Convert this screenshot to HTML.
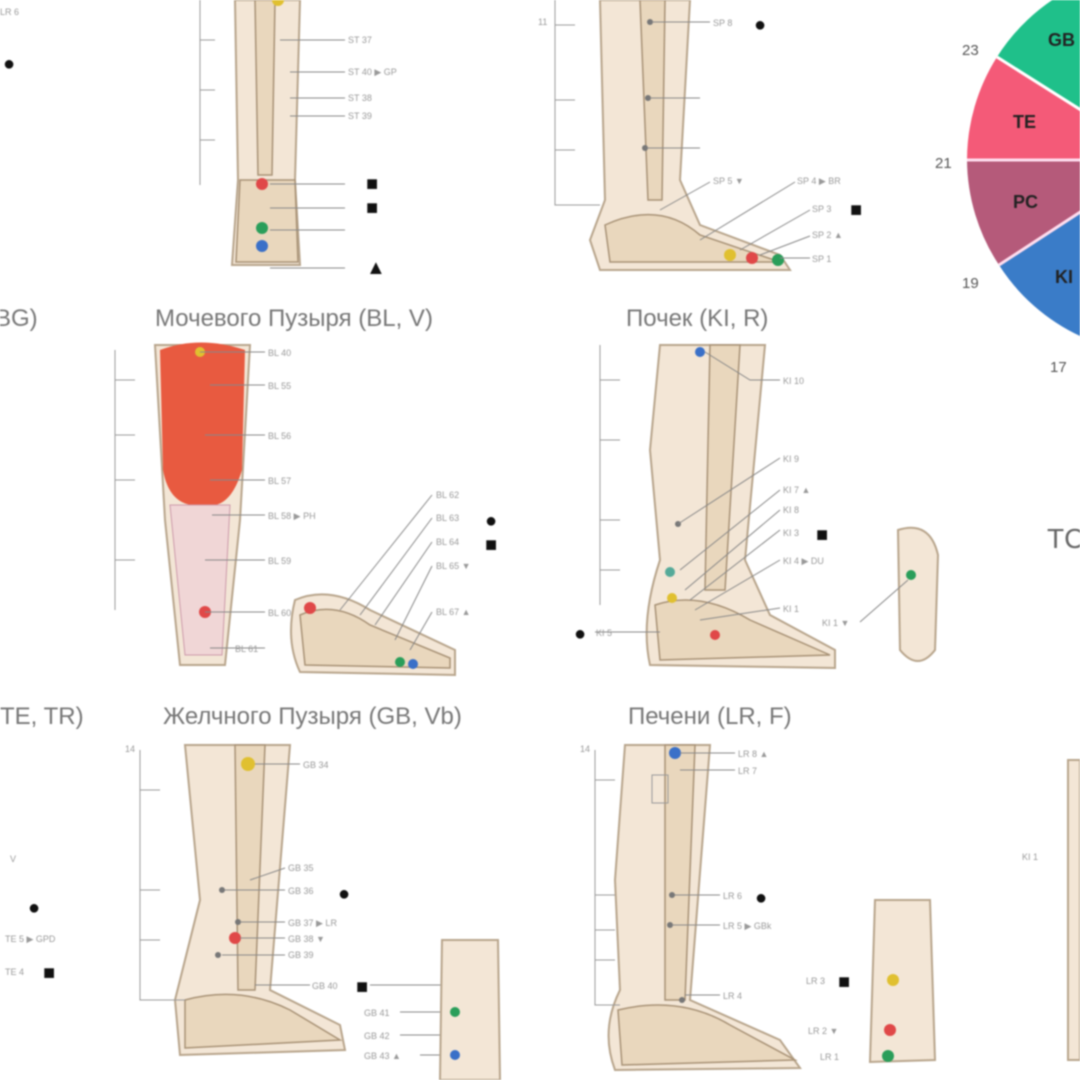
<!DOCTYPE html>
<html><head><meta charset="utf-8"><style>
html,body{margin:0;padding:0;background:#fff;}
svg{display:block;filter:blur(0.7px)}
text{font-family:"Liberation Sans","DejaVu Sans",sans-serif;}
.t{font-size:24px;fill:#777;}
.s{font-size:9px;fill:#999;}
.k{font-size:20px;fill:#111;}
.leg{fill:#f3e6d6;stroke:#b8a58c;stroke-width:2}
.bone{fill:#e9d7bd;stroke:#a89276;stroke-width:1.5}
.ln{stroke:#888;stroke-width:1;fill:none}
.rl{stroke:#999;stroke-width:1;fill:none}
</style></head><body>
<svg width="1080" height="1080" viewBox="0 0 1080 1080" xmlns="http://www.w3.org/2000/svg">
<rect width="1080" height="1080" fill="#fff"/>
<!-- pie chart -->
<g>
<path d="M1160,160 L1160,-33 A193,193 0 0 0 997,57 Z" fill="#1fc08a"/>
<path d="M1160,160 L997,57 A193,193 0 0 0 967,160 Z" fill="#f45a78"/>
<path d="M1160,160 L967,160 A193,193 0 0 0 999,265 Z" fill="#b55a7a"/>
<path d="M1160,160 L999,265 A193,193 0 0 0 1080,336 Z" fill="#3a7cc8"/>
<line x1="1160" y1="160" x2="967" y2="160" stroke="#fde" stroke-width="3"/>
<line x1="1160" y1="160" x2="997" y2="57" stroke="#fff" stroke-width="3"/>
<line x1="1160" y1="160" x2="999" y2="265" stroke="#fde" stroke-width="3"/>
<text x="1048" y="46" font-size="18" font-weight="bold" fill="#222">GB</text>
<text x="1013" y="128" font-size="18" font-weight="bold" fill="#222">TE</text>
<text x="1013" y="208" font-size="18" font-weight="bold" fill="#222">PC</text>
<text x="1055" y="283" font-size="18" font-weight="bold" fill="#222">KI</text>
<text x="962" y="55" font-size="15" fill="#555">23</text>
<text x="935" y="168" font-size="15" fill="#555">21</text>
<text x="962" y="288" font-size="15" fill="#555">19</text>
<text x="1050" y="372" font-size="15" fill="#555">17</text>
<text x="1047" y="548" font-size="28" fill="#666">TC</text>
</g>
<!-- titles -->
<text class="t" x="155" y="326">Мочевого Пузыря (BL, V)</text>
<text class="t" x="626" y="326">Почек (KI, R)</text>
<text class="t" x="-5" y="326">BG)</text>
<text class="t" x="0" y="724">TE, TR)</text>
<text class="t" x="163" y="724">Желчного Пузыря (GB,  Vb)</text>
<text class="t" x="628" y="724">Печени (LR, F)</text>

<!-- top leg 1 -->
<path class="leg" d="M235,0 L300,0 L295,180 L300,265 L232,265 L238,180 Z"/>
<path class="bone" d="M255,0 L275,0 L272,175 L258,175 Z"/>
<path class="bone" d="M240,180 L295,180 L298,262 L236,262 Z"/>
<path class="rl" d="M200,0 V185 M200,40 H215 M200,90 H215 M200,140 H215"/>
<circle cx="262" cy="184" r="6" fill="#e04848"/><circle cx="262" cy="228" r="6" fill="#2a9e5a"/><circle cx="262" cy="246" r="6" fill="#3a70c8"/><circle cx="278" cy="0" r="6" fill="#e0c030"/>
<g class="ln"><path d="M280,40 H345 M290,72 H345 M290,98 H345 M290,116 H345 M270,184 H345 M270,208 H345 M270,230 H345 M270,268 H345"/></g>
<text class="s" x="348" y="43">ST 37</text><text class="s" x="348" y="75">ST 40 ▶ GP</text><text class="s" x="348" y="101">ST 38</text><text class="s" x="348" y="119">ST 39</text>
<text class="k" x="366" y="190">■</text><text class="k" x="366" y="214">■</text><text class="k" x="366" y="274" font-size="16">▲</text>
<text class="k" x="3" y="70">●</text><text class="s" x="0" y="15">LR 6</text>

<!-- top leg 2 -->
<path class="leg" d="M600,0 L690,0 L680,180 L700,225 L780,255 L790,270 L600,270 L590,240 L605,200 Z"/>
<path class="bone" d="M640,0 L665,0 L662,200 L648,200 Z"/>
<path class="bone" d="M605,225 Q660,200 700,235 L780,262 L610,262 Z"/>
<path class="rl" d="M555,0 V205 H600 M555,25 H575 M555,100 H575 M555,150 H575"/>
<text class="s" x="538" y="25">11</text>
<circle cx="650" cy="22" r="3" fill="#777"/><circle cx="648" cy="98" r="3" fill="#777"/><circle cx="645" cy="148" r="3" fill="#777"/>
<circle cx="730" cy="255" r="6" fill="#e0c030"/><circle cx="752" cy="258" r="6" fill="#e04848"/><circle cx="778" cy="260" r="6" fill="#2a9e5a"/>
<path class="ln" d="M652,22 H710 M650,98 H700 M647,148 H700 M660,210 L710,182 M700,240 L795,182 M740,250 L810,210 M760,255 L810,236 M780,258 L810,258"/>
<text class="s" x="713" y="26">SP 8</text><text class="k" x="754" y="31">●</text>
<text class="s" x="713" y="184">SP 5 ▼</text><text class="s" x="797" y="184">SP 4 ▶ BR</text>
<text class="s" x="812" y="212">SP 3</text><text class="k" x="850" y="216">■</text><text class="s" x="812" y="238">SP 2 ▲</text><text class="s" x="812" y="262">SP 1</text>

<!-- BL leg -->
<path class="leg" d="M155,345 L250,345 L240,520 L225,665 L180,665 L165,520 Z"/>
<path d="M160,350 Q200,335 245,350 L242,470 Q230,510 205,505 Q170,510 163,470 Z" fill="#e85a40"/>
<path d="M170,505 L230,505 L222,655 L185,655 Z" fill="#f0d6d6" stroke="#c9a"/>
<path class="rl" d="M115,350 V610 M115,380 H135 M115,435 H135 M115,480 H135 M115,560 H135"/>
<circle cx="200" cy="352" r="5" fill="#e0c030"/><circle cx="205" cy="612" r="6" fill="#e04848"/>
<path class="ln" d="M200,352 H265 M210,385 H265 M205,435 H265 M210,480 H265 M212,515 H265 M205,560 H265 M205,612 H265 M210,648 H265"/>
<text class="s" x="268" y="356">BL 40</text><text class="s" x="268" y="389">BL 55</text><text class="s" x="268" y="439">BL 56</text><text class="s" x="268" y="484">BL 57</text><text class="s" x="268" y="519">BL 58 ▶ PH</text><text class="s" x="268" y="564">BL 59</text><text class="s" x="268" y="616">BL 60</text><text class="s" x="235" y="652">BL 61</text>
<path class="leg" d="M295,600 Q330,585 370,610 L455,650 L455,675 L300,672 Q285,640 295,600 Z"/>
<path class="bone" d="M300,615 Q335,600 370,625 L450,658 L450,668 L305,665 Z"/>
<circle cx="310" cy="608" r="6" fill="#e04848"/><circle cx="400" cy="662" r="5" fill="#2a9e5a"/><circle cx="413" cy="664" r="5" fill="#3a70c8"/>
<path class="ln" d="M340,610 L432,495 M360,615 L432,518 M375,625 L432,542 M395,640 L432,566 M410,650 L432,612"/>
<text class="s" x="436" y="498">BL 62</text><text class="s" x="436" y="521">BL 63</text><text class="k" x="485" y="527">●</text><text class="s" x="436" y="545">BL 64</text><text class="k" x="485" y="551">■</text><text class="s" x="436" y="569">BL 65 ▼</text><text class="s" x="436" y="615">BL 67 ▲</text>

<!-- KI leg -->
<path class="leg" d="M660,345 L765,345 L745,560 L770,615 L835,650 L835,668 L650,665 Q640,620 660,560 L650,450 Z"/>
<path class="bone" d="M710,345 L740,345 L725,590 L705,590 Z"/>
<path class="bone" d="M655,605 Q700,590 750,620 L830,655 L660,660 Z"/>
<path class="rl" d="M600,345 V605 M600,380 H620 M600,440 H620 M600,520 H620 M600,570 H620"/>
<circle cx="700" cy="352" r="5" fill="#3a70c8"/><circle cx="670" cy="572" r="5" fill="#5a9"/><circle cx="672" cy="598" r="5" fill="#e0c030"/><circle cx="715" cy="635" r="5" fill="#e04848"/><circle cx="678" cy="524" r="3" fill="#777"/>
<path class="ln" d="M705,352 L750,380 H780 M678,524 L780,458 M680,570 L780,490 M685,590 L780,510 M690,600 L780,530 M695,610 L780,560 M700,620 L780,608 M660,632 H595"/>
<text class="s" x="783" y="384">KI 10</text><text class="s" x="783" y="462">KI 9</text><text class="s" x="783" y="493">KI 7 ▲</text><text class="s" x="783" y="513">KI 8</text><text class="s" x="783" y="536">KI 3</text><text class="k" x="816" y="541">■</text><text class="s" x="783" y="564">KI 4 ▶ DU</text><text class="s" x="783" y="612">KI 1</text>
<text class="k" x="574" y="640">●</text><text class="s" x="596" y="636">KI 5</text>
<path class="leg" d="M898,530 Q930,520 938,555 L935,650 Q918,672 900,650 Z"/>
<circle cx="911" cy="575" r="5" fill="#2a9e5a"/><path class="ln" d="M908,580 L860,622"/>
<text class="s" x="822" y="626">KI 1 ▼</text>

<!-- GB leg -->
<path class="leg" d="M185,745 L290,745 L270,990 L340,1025 L345,1050 L180,1055 L175,1000 L200,900 Z"/>
<path class="bone" d="M235,745 L265,745 L255,990 L238,990 Z"/>
<path class="bone" d="M185,1000 Q240,985 290,1010 L340,1040 L185,1048 Z"/>
<path class="rl" d="M140,750 V1000 H185 M140,790 H160 M140,890 H160 M140,940 H160"/>
<text class="s" x="125" y="752">14</text>
<circle cx="248" cy="764" r="7" fill="#e0c030"/><circle cx="222" cy="890" r="3" fill="#777"/><circle cx="238" cy="922" r="3" fill="#777"/><circle cx="235" cy="938" r="6" fill="#e04848"/><circle cx="218" cy="955" r="3" fill="#777"/>
<path class="ln" d="M255,764 H300 M250,880 L285,868 M225,890 H285 M240,922 H285 M240,938 H285 M222,955 H285 M255,985 H310 M370,985 H445 M400,1012 H445 M400,1035 H445 M420,1055 H445"/>
<text class="s" x="303" y="768">GB 34</text><text class="s" x="288" y="871">GB 35</text><text class="s" x="288" y="894">GB 36</text><text class="k" x="338" y="900">●</text>
<text class="s" x="288" y="926">GB 37 ▶ LR</text><text class="s" x="288" y="942">GB 38 ▼</text><text class="s" x="288" y="958">GB 39</text><text class="s" x="312" y="989">GB 40</text><text class="k" x="356" y="993">■</text>
<text class="s" x="364" y="1016">GB 41</text><text class="s" x="364" y="1039">GB 42</text><text class="s" x="364" y="1059">GB 43 ▲</text>
<path class="leg" d="M442,940 L498,940 L500,1080 L440,1080 Z"/>
<circle cx="455" cy="1012" r="5" fill="#2a9e5a"/><circle cx="455" cy="1055" r="5" fill="#3a70c8"/>
<text class="s" x="10" y="862">V</text><text class="k" x="28" y="914">●</text><text class="s" x="5" y="942">TE 5 ▶ GPD</text><text class="s" x="5" y="975">TE 4</text><text class="k" x="43" y="979">■</text>

<!-- LR leg -->
<path class="leg" d="M625,745 L710,745 L690,1000 L780,1040 L800,1068 L615,1070 Q600,1030 620,990 L615,880 Z"/>
<path class="bone" d="M665,745 L695,745 L685,1000 L665,1000 Z"/>
<path class="bone" d="M618,1010 Q680,995 730,1025 L795,1060 L622,1065 Z"/>
<path class="rl" d="M595,750 V1005 H620 M595,780 H615 M595,895 H615 M595,930 H615 M595,960 H615"/>
<text class="s" x="580" y="752">14</text>
<circle cx="675" cy="753" r="6" fill="#3a70c8"/><rect x="652" y="775" width="16" height="28" fill="none" stroke="#999"/><circle cx="672" cy="895" r="3" fill="#777"/><circle cx="670" cy="925" r="3" fill="#777"/><circle cx="682" cy="1000" r="3" fill="#777"/>
<path class="ln" d="M680,753 H735 M680,770 H735 M675,895 H720 M672,925 H720 M685,995 H720"/>
<text class="s" x="738" y="757">LR 8 ▲</text><text class="s" x="738" y="774">LR 7</text><text class="s" x="723" y="899">LR 6</text><text class="k" x="755" y="904">●</text><text class="s" x="723" y="929">LR 5 ▶ GBk</text><text class="s" x="723" y="999">LR 4</text>
<path class="leg" d="M875,900 L930,900 L935,1060 L870,1062 Z"/>
<circle cx="893" cy="980" r="6" fill="#e0c030"/><circle cx="890" cy="1030" r="6" fill="#e04848"/><circle cx="888" cy="1056" r="6" fill="#2a9e5a"/>
<text class="s" x="806" y="984">LR 3</text><text class="k" x="838" y="988">■</text><text class="s" x="808" y="1034">LR 2 ▼</text><text class="s" x="820" y="1060">LR 1</text>
<text class="s" x="1022" y="860">KI 1</text>
<path class="leg" d="M1068,760 L1080,760 L1080,1060 L1068,1060 Z"/>
</svg>
</body></html>
